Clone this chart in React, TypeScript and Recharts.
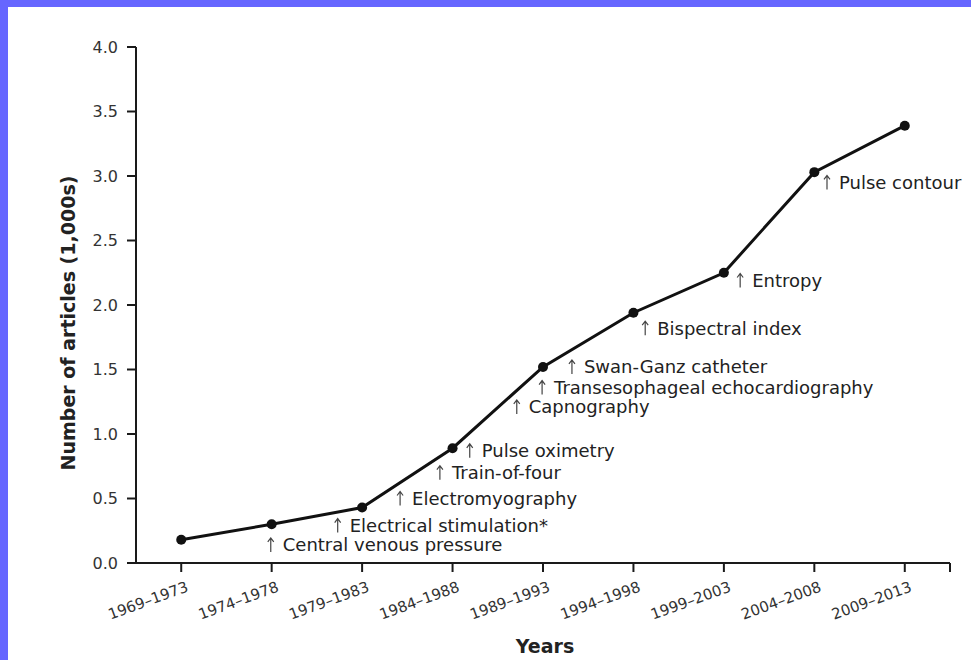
import { LineChart, Line, XAxis, YAxis, ReferenceDot } from "recharts";

const PERIODS = [
  "1969–1973",
  "1974–1978",
  "1979–1983",
  "1984–1988",
  "1989–1993",
  "1994–1998",
  "1999–2003",
  "2004–2008",
  "2009–2013",
];
const ARTICLES = [0.18, 0.3, 0.43, 0.89, 1.52, 1.94, 2.25, 3.03, 3.39];
const Y_TICKS = [0, 0.5, 1, 1.5, 2, 2.5, 3, 3.5, 4];
// last tick (8.5) is just the closing mark at the end of the axis
const X_TICKS = [0, 1, 2, 3, 4, 5, 6, 7, 8, 8.5];

// annotations: text, x in period-index units, y in thousands of articles
const NOTE_TEXT = [
  "Central venous pressure",
  "Electrical stimulation*",
  "Electromyography",
  "Train-of-four",
  "Pulse oximetry",
  "Capnography",
  "Transesophageal echocardiography",
  "Swan-Ganz catheter",
  "Bispectral index",
  "Entropy",
  "Pulse contour",
];
const NOTE_X = [0.99, 1.73, 2.42, 2.86, 3.19, 3.71, 3.99, 4.32, 5.13, 6.18, 7.14];
const NOTE_Y = [0.14, 0.29, 0.5, 0.7, 0.87, 1.21, 1.36, 1.52, 1.82, 2.19, 2.95];

const FONT = "'DejaVu Sans', 'Liberation Sans', sans-serif";
const INK = "#1a1a1a";

const data = PERIODS.map((period, i) => ({ idx: i, period, articles: ARTICLES[i] }));

function PeriodTick({ x, y, payload }: { x: number; y: number; payload: { value: number } }) {
  const label = PERIODS[payload.value];
  if (!label) return null;
  const tx = x + 8;
  const ty = y + 19;
  return (
    <text
      x={tx}
      y={ty}
      transform={`rotate(-20 ${tx} ${ty})`}
      textAnchor="end"
      fontSize={15}
      fontFamily={FONT}
      fill="#333"
    >
      {label}
    </text>
  );
}

function Note({ cx, cy, text }: { cx: number; cy: number; text: string }) {
  return (
    <g>
      <path
        d={`M${cx},${cy + 7} L${cx},${cy - 7} M${cx - 3},${cy - 3} L${cx},${cy - 7} L${cx + 3},${cy - 3}`}
        stroke="#444"
        strokeWidth={1.2}
        fill="none"
      />
      <text x={cx + 12} y={cy} dy="0.36em" fontSize={18} fontFamily={FONT} fill="#222">
        {text}
      </text>
    </g>
  );
}

export default function App() {
  return (
    <div
      style={{
        position: "absolute",
        left: 0,
        top: 0,
        width: 971,
        height: 660,
        boxSizing: "border-box",
        borderTop: "7px solid #6666ff",
        borderLeft: "8px solid #6666ff",
        background: "#fff",
      }}
    >
      <LineChart width={963} height={653} data={data} margin={{ top: 40, right: 21, bottom: 0, left: 0 }}>
        <XAxis
          dataKey="idx"
          type="number"
          domain={[-0.5, 8.5]}
          ticks={X_TICKS}
          interval={0}
          height={97}
          tickSize={9}
          tickMargin={0}
          stroke={INK}
          strokeWidth={2}
          tick={PeriodTick}
          label={{
            content: ({ viewBox }: any) => (
              <text
                x={viewBox.x + viewBox.width / 2 + 2}
                y={viewBox.y + 90}
                textAnchor="middle"
                fontSize={19}
                fontWeight="bold"
                fontFamily={FONT}
                fill="#222"
              >
                Years
              </text>
            ),
          }}
        />
        <YAxis
          type="number"
          domain={[0, 4]}
          ticks={Y_TICKS}
          width={128}
          tickSize={9}
          tickMargin={9}
          stroke={INK}
          strokeWidth={2}
          tickFormatter={(v: number) => v.toFixed(1)}
          tick={{ fontSize: 16, fontFamily: FONT, fill: "#333" }}
          label={{
            content: ({ viewBox }: any) => {
              const lx = viewBox.x + 60;
              const ly = viewBox.y + viewBox.height / 2 + 18;
              return (
                <text
                  x={lx}
                  y={ly}
                  transform={`rotate(-90 ${lx} ${ly})`}
                  textAnchor="middle"
                  dy="0.36em"
                  fontSize={19}
                  fontWeight="bold"
                  fontFamily={FONT}
                  fill="#222"
                >
                  Number of articles (1,000s)
                </text>
              );
            },
          }}
        />
        <Line
          dataKey="articles"
          type="linear"
          stroke="#111"
          strokeWidth={3}
          dot={{ r: 5, fill: "#111", stroke: "#111", strokeWidth: 0 }}
          isAnimationActive={false}
        />
        {NOTE_TEXT.map((text, i) => (
          <ReferenceDot
            key={text}
            x={NOTE_X[i]}
            y={NOTE_Y[i]}
            r={0}
            ifOverflow="visible"
            shape={(p: any) => <Note cx={p.cx} cy={p.cy} text={text} />}
          />
        ))}
      </LineChart>
    </div>
  );
}
